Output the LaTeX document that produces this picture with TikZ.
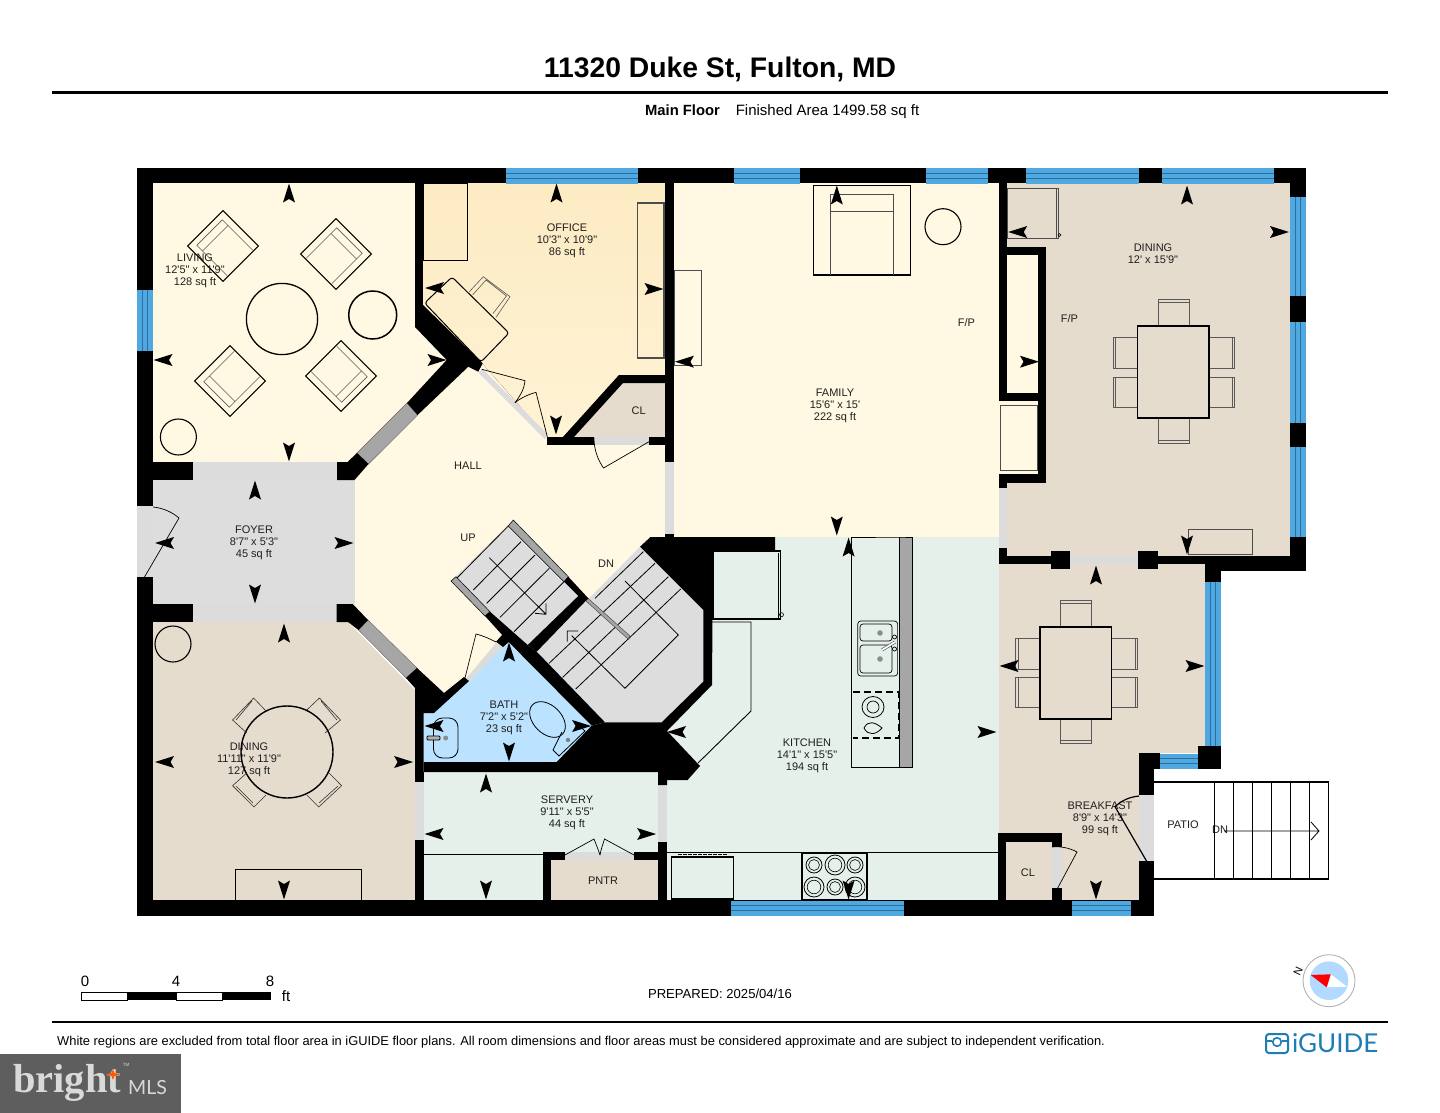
\documentclass[tikz,border=0pt]{standalone}
\usepackage{fontspec}
\newfontfamily\lsans{Liberation Sans}
\newfontfamily\lserif{Liberation Serif}
\newfontfamily\lato{Lato}
\definecolor{cream}{HTML}{FFF8E2}
\definecolor{officetop}{HTML}{FDEBC3}
\definecolor{officebot}{HTML}{FEF3D4}
\definecolor{beige}{HTML}{E6DCCE}
\definecolor{mint}{HTML}{E6F0EB}
\definecolor{foyergrey}{HTML}{DDDDDD}
\definecolor{doorgrey}{HTML}{DCDCDC}
\definecolor{bathblue}{HTML}{BBE2FF}
\definecolor{winblue}{HTML}{4FA8DF}
\definecolor{windark}{HTML}{2C6F9E}
\definecolor{bargrey}{HTML}{A6A6A6}
\definecolor{guide}{HTML}{1F7DB5}
\tikzset{
 lbl/.style={font=\lsans\fontsize{11}{12}\selectfont,align=center,inner sep=0pt,text=black!88},
 wall/.style={fill=black},
 opening/.style={fill=doorgrey},
 furn/.style={draw=black,line width=1pt},
 furnthin/.style={draw=black!65,line width=.6pt},
 swing/.style={draw=black,line width=.7pt},
 tread/.style={draw=black,line width=.8pt},
}
\newcommand\mk[3]{\fill[shift={(#1,#2)},rotate=#3] (9.5,0)--(-9.5,6)--(-6,0)--(-9.5,-6)--cycle;}
\newcommand\winh[3]{\fill[winblue] (#1,#3) rectangle (#2,#3+15.5);\draw[windark,line width=.6pt] (#1,#3+5.2)--(#2,#3+5.2) (#1,#3+10)--(#2,#3+10);}
\newcommand\winv[3]{\fill[winblue] (#1,#2) rectangle (#1+16,#3);\draw[windark,line width=.6pt] (#1+5.3,#2)--(#1+5.3,#3) (#1+10.6,#2)--(#1+10.6,#3);}
\newcommand\rchair[3]{\begin{scope}[shift={(#1,#2)},rotate=#3]
 \draw[furn] (-25,-25) rectangle (25,25);
 \draw[furnthin] (24,-18)--(-19,-18)--(-19,18)--(24,18) (-11,-18)--(-11,18);
 \end{scope}}
\newcommand\burner[3]{\draw[line width=.8pt] (#1,#2) circle (#3);\draw[line width=.6pt] (#1,#2) circle (#3*.68);}
\begin{document}
\begin{tikzpicture}[x=1pt,y=-1pt]
\useasboundingbox (0,0) rectangle (1440,1113);
\fill[white] (0,0) rectangle (1440,1113);
%---------- floors
\fill[cream] (153,183)--(999,183)--(1007,405)--(1007,537)--(650,537)--(641,545)--(537,652)--(509,642)--(467,677)--(444,693)--(352,604)--(153,604)--cycle;
\fill[foyergrey] (153,480) rectangle (355,604);
\fill[top color=officetop,bottom color=officebot] (423,183)--(665,183)--(665,375)--(619,375)--(563,437)--(547,437)--(482,363)--(423,307)--cycle;
\fill[beige] (574,437)--(623,383)--(665,383)--(665,437)--cycle;
\fill[beige] (153,622)--(348,622)--(415,690)--(415,900)--(153,900)--cycle;
\fill[bathblue] (423.5,713)--(434,713)--(508,642)--(593,725)--(556.7,762)--(423.5,762)--cycle;
\fill[mint] (667,537) rectangle (999,900);
\fill[mint] (423.5,772) rectangle (658,900);
\fill[beige] (551,860) rectangle (658,900);
\fill[beige] (999,183) rectangle (1290,556);
\fill[cream] (1007,255) rectangle (1037.5,393);
\fill[cream] (999,401) rectangle (1037.5,474);
\fill[beige] (999,564) rectangle (1205,753);
\fill[beige] (999,753) rectangle (1139,900);
\fill[beige] (1006,842) rectangle (1052,900);
%---------- stairs
\fill[foyergrey] (513.3,520)--(451,581)--(527.7,645)--(578.3,596)--(564,581.7)--cycle;
\fill[foyergrey] (640,546.7)--(536.7,651.7)--(605,722.3)--(661.7,722.3)--(703.3,681.7)--(703.3,610)--cycle;
\draw[tread] (456.7,578.3)--(508.3,526);
\draw[tread] (473.3,590)--(521,541.7) (486.7,603.3)--(535,555) (500,617.3)--(549.3,568.3) (514,631.7)--(564,581.7);
\draw[tread] (489.3,557.7)--(546,614.3) (535,613.3)--(546,614.3)--(546,603.3);
\draw[tread] (595,598.3)--(643.3,551.7) (549,663.3)--(655,563.3) (562.7,677.3)--(668.3,576.7) (575.7,689)--(680.7,589);
\draw[tread] (625,581)--(678.3,635)--(625,688.3)--(571.7,635.7) (567.3,641.7)--(567.3,631)--(578.3,631);
\fill[bargrey,draw=black,line width=.5pt] (513.3,520)--(568.3,576.7)--(564,581.7)--(508.3,526)--cycle;
\fill[bargrey,draw=black,line width=.5pt] (451,581)--(456,576.7)--(490,611.7)--(485,616)--cycle;
\fill[bargrey,draw=black!70,line width=.5pt] (588,598.3)--(630,636)--(628,639)--(586,601)--cycle;
%---------- labels
\node[lbl] (living) at (195,270.7) {LIVING\\12'5" x 11'9"\\128 sq ft};
\node[lbl] (office) at (567,240.7) {OFFICE\\10'3" x 10'9"\\86 sq ft};
\node[lbl] (hall) at (468,465.7) {HALL};
\node[lbl] (up) at (468,537.7) {UP};
\node[lbl] (dn) at (606,563.7) {DN};
\node[lbl] (foyer) at (254,543) {FOYER\\8'7" x 5'3"\\45 sq ft};
\node[lbl] (diningl) at (249,759.7) {DINING\\11'11" x 11'9"\\127 sq ft};
\node[lbl] (bath) at (504,718) {BATH\\7'2" x 5'2"\\23 sq ft};
\node[lbl] (servery) at (567,812.7) {SERVERY\\9'11" x 5'5"\\44 sq ft};
\node[lbl] (pntr) at (603,880.5) {PNTR};
\node[lbl] (kitchen) at (807,755.7) {KITCHEN\\14'1" x 15'5"\\194 sq ft};
\node[lbl] (breakfast) at (1100,819) {BREAKFAST\\8'9" x 14'3"\\99 sq ft};
\node[lbl] (clb) at (1028,872.5) {CL};
\node[lbl] (cla) at (638.6,410.5) {CL};
\node[lbl] (patio) at (1183,824.5) {PATIO};
\node[lbl] (dnp) at (1220,829.5) {DN};
\node[lbl] (family) at (835,405.7) {FAMILY\\15'6" x 15'\\222 sq ft};
\node[lbl] (diningr) at (1153,253.5) {DINING\\12' x 15'9"};
\node[lbl] (fpa) at (966.4,322.2) {F/P};
\node[lbl] (fpb) at (1069.5,318.2) {F/P};
%---------- openings
\fill[opening] (193,462) rectangle (337,480);
\fill[opening] (193,604) rectangle (337,622);
\fill[opening] (137,506) rectangle (153,577);
\fill[opening] (594,437) rectangle (649,445);
\fill[opening] (665,462) rectangle (673.6,534);
\fill[opening] (999,488) rectangle (1007,548);
\fill[opening] (1070,556) rectangle (1138,564);
\fill[opening] (415,782) rectangle (423.5,840);
\fill[opening] (658,785) rectangle (667,842);
\fill[opening] (565,852) rectangle (634,860);
\fill[opening] (1052,847) rectangle (1062,888);
\fill[opening] (1139,795) rectangle (1153.5,861);
\fill[opening] (482.7,369.3)--(548.3,435)--(545,439.3)--(478.3,372.3)--cycle;
\fill[opening] (465,680)--(496,643)--(503,646.7)--(469,682)--cycle;
%---------- interior dark glazing
\fill[bargrey,draw=black!60,line width=.4pt] (407,403)--(417.6,415)--(368.5,464)--(357,453)--cycle;
\fill[bargrey,draw=black!60,line width=.4pt] (368,620)--(358.5,630)--(406,678)--(417,668)--cycle;
%---------- walls
\fill[wall] (137,168) rectangle (1306,183);
\fill[wall] (137,168) rectangle (153,506);
\fill[wall] (137,577) rectangle (153,916);
\fill[wall] (137,900) rectangle (1153.5,916);
\fill[wall] (1290,168) rectangle (1306,571);
\fill[wall] (153,462) rectangle (193,480);
\fill[wall] (153,604) rectangle (193,622);
\fill[wall] (415,183) rectangle (423,327);
\fill[wall] (415,327)--(423,305)--(482.7,363.3)--(478.3,371.7)--(468.3,366.7)--(417.6,415)--(407,403)--(446.7,360)--cycle;
\fill[wall] (357,453)--(368.5,464)--(354.5,480)--(337,480)--(337,462)--(347.5,462)--cycle;
\fill[wall] (336.7,604)--(352.7,604)--(368,620)--(358.5,630)--(348,622)--(336.7,622)--cycle;
\fill[wall] (665,183) rectangle (673.6,462);
\fill[wall] (665,534) rectangle (673.6,545);
\fill[wall] (547,437) rectangle (594,445);
\fill[wall] (649,437) rectangle (665,445);
\fill[wall] (563,437)--(619,375)--(665,375)--(665,383)--(623,383)--(574,437)--cycle;
% bath / west core
\fill[wall] (415,688)--(406,678)--(417,668)--(444,693)--(464,677)--(469,681)--(434,713)--(423.5,713)--(423.5,772)--(415,772)--cycle;
\fill[wall] (415,772) rectangle (423.5,782);
\fill[wall] (415,840) rectangle (423.5,900);
\fill[wall] (485,616)--(490,611.7)--(527.7,645)--(536.7,651.7)--(605,722.3)--(591.7,725.7)--(508.3,641.7)--cycle;
\fill[wall] (496,641.7)--(503,634)--(510,641)--(503,647)--cycle;
\fill[wall] (568.3,576.7)--(588.3,598.3)--(536.7,651.7)--(527.7,645)--(578.3,596)--(564,581.7)--cycle;
% central mass
\fill[wall] (640,546.7)--(650.5,537)--(775,537)--(775,550)--(713,550)--(712,685)--(667,731)--(700,766)--(687.6,780)--(667,780)--(667,785)--(658,785)--(658,772)--(423.5,772)--(423.5,762)--(556.7,762)--(591.7,725.7)--(605,722.3)--(661.7,722.3)--(703.3,681.7)--(703.3,610)--cycle;
\fill[wall] (658,842) rectangle (667,900);
\fill[wall] (543,852) rectangle (551,900);
\fill[wall] (543,852) rectangle (565,860);
\fill[wall] (634,852) rectangle (658,860);
% fireplace and east walls
\fill[wall] (999,183) rectangle (1007,393);
\fill[wall] (999,247) rectangle (1046,255);
\fill[wall] (1037.5,247) rectangle (1046,483);
\fill[wall] (999,393) rectangle (1046,401);
\fill[wall] (999,474) rectangle (1046,483);
\fill[wall] (999,474) rectangle (1007,488);
\fill[wall] (999,548) rectangle (1007,564);
\fill[wall] (999,556) rectangle (1070,564);
\fill[wall] (1051,551) rectangle (1070,569);
\fill[wall] (1138,551) rectangle (1157.5,569);
\fill[wall] (1138,556) rectangle (1290,564);
\fill[wall] (1205,556) rectangle (1306,571);
\fill[wall] (1205,571) rectangle (1221,582);
\fill[wall] (1198,746) rectangle (1221,769);
\fill[wall] (1139,753) rectangle (1160,769);
\fill[wall] (1139,753) rectangle (1153.5,795);
\fill[wall] (1139,861) rectangle (1153.5,916);
\fill[wall] (997.5,833) rectangle (1062,842);
\fill[wall] (997.5,833) rectangle (1006,900);
\fill[wall] (1052,833) rectangle (1062,847);
\fill[wall] (1052,888) rectangle (1062,900);
%---------- windows
\winh{506}{638}{168}
\winh{734}{800}{168}
\winh{926}{988}{168}
\winh{1026}{1138.5}{168}
\winh{1162}{1274}{168}
\winh{731}{904}{900.5}
\winh{1072}{1130.5}{900.5}
\winh{1160}{1198}{753.5}
\winv{137}{290}{351}
\winv{1290}{197}{296}
\winv{1290}{322}{423}
\winv{1290}{447}{537}
\winv{1205}{582}{746}
%---------- door swings
\draw[swing] (153,507) .. controls (163,508) and (172,512) .. (179,518) -- (144.5,577);
\draw[swing] (481.7,369.3)--(525,380.7) .. controls (524,390) and (520,396) .. (515,402.7);
\draw[swing] (515,402.7) .. controls (522,397) and (530,394) .. (536,392.3)--(547.3,436.7);
\draw[swing] (594,438) .. controls (594,450) and (598,460) .. (603.5,468)--(649,441.7);
\draw[swing] (465,678)--(476,634) .. controls (484,636) and (490,639) .. (496,642);
\draw[swing] (565,855)--(594,839) .. controls (596,844) and (598,849) .. (600,855);
\draw[swing] (634,855)--(604.5,839) .. controls (603,844) and (601,849) .. (600,855);
\draw[swing] (1057.7,888)--(1077,852) .. controls (1070,848) and (1060,846) .. (1052,847);
\draw[line width=1.2pt] (1146.5,861)--(1115,806.7) .. controls (1122,800) and (1130,797) .. (1139,796);
%---------- patio stairs
\draw[line width=1.1pt] (1153.5,782)--(1328.7,782)--(1328.7,879)--(1153.5,879);
\foreach \sx in {1214,1233,1252,1271,1290.5,1309.6} \draw[line width=1pt] (\sx,782)--(\sx,879);
\draw[line width=.8pt] (1224,831)--(1319,831) (1311,822)--(1319,831)--(1311,840);
%---------- living furniture
\rchair{223}{246}{-45}
\rchair{336}{254}{-135}
\rchair{230}{381}{45}
\rchair{341}{376}{135}
\draw[line width=1.3pt] (282,319) circle (35.6);
\draw[line width=1.5pt] (372.7,315) circle (24);
\draw[line width=1.1pt] (178.4,437) circle (18);
%---------- office furniture
\draw[furn] (423,183) rectangle (467.4,260);
\draw[furn,draw=black!70,line width=1.2pt] (637.6,203) rectangle (664,358);
\draw[furnthin] (469.3,291.7)--(483.3,276.7)--(510,296.7)--(496,317.3) (472.5,295)--(486,280)--(506.5,296)--(493,313.5);
\draw[furn,rounded corners=3pt] (452,277)--(509,333)--(481,362)--(424.6,303)--cycle;
%---------- dining left furniture
\draw[line width=1.4pt] (287,752) circle (46);
\draw[furnthin,draw=black!80] (253.6,698)--(232.6,720)--(246.7,733) (253.6,698)--(267,712) (252,701)--(236,720);
\draw[furnthin,draw=black!80] (319.4,698)--(340.5,720)--(325,733) (319.4,698)--(306.8,710) (321,701)--(337,720);
\draw[furnthin,draw=black!80] (232.6,785.7)--(254,807)--(266,795) (232.6,785.7)--(246.7,773) (236,786)--(253,803);
\draw[furnthin,draw=black!80] (329,773)--(341.6,785.7)--(318.7,807)--(306.8,795) (338,786)--(319,803);
\draw[line width=1.1pt] (173,644) circle (18);
\draw[line width=1pt] (235,900)--(235,869)--(361,869)--(361,900);
%---------- servery counter
\draw[line width=.9pt] (423.5,854)--(543,854);
%---------- bath fixtures
\draw[line width=.8pt,rounded corners=9pt] (433.5,718) rectangle (458,758);
\fill[black!45] (445.7,738) circle (2.5);
\draw[line width=.8pt,fill=black!30,rounded corners=1pt] (427,736) rectangle (440,740);
\draw[line width=.8pt] (547.5,719.5) ellipse [x radius=21,y radius=14,rotate=-45];
\draw[line width=.8pt] (562,732)--(553,750)--(559,756)--(585,731)--(577,724);
\fill[black!50] (568,740) circle (2.2);
%---------- kitchen furniture
\draw[line width=1.4pt] (713,551) rectangle (780.5,619);
\draw[line width=.6pt] (778,553)--(778,619);
\draw[line width=.6pt] (781.5,614.7) circle (2);
\draw[line width=.9pt] (712,622)--(751,622)--(751,711)--(698,763);
\fill[bargrey] (899.4,537) rectangle (912,767);
\draw[line width=.9pt] (899.4,537)--(912,537)--(912,767)--(851.7,767)--(851.7,537)--cycle (899.4,537)--(899.4,767);
\draw[line width=.7pt,rounded corners=3pt] (857.7,621) rectangle (897.6,676);
\draw[line width=.7pt,rounded corners=3pt] (860,624) rectangle (892,641);
\draw[line width=.7pt,rounded corners=3pt] (860,645) rectangle (892,673);
\fill[black!45] (880,633) circle (2.8);
\fill[black!45] (880,659) circle (2.8);
\draw[line width=3pt,black!70] (882,650)--(895,642);
\draw[line width=1.8pt,white] (882,650)--(895,642);
\draw[line width=.7pt] (894.5,637) circle (2) (894.5,649) circle (2);
\draw[line width=1.2pt,dashed,dash pattern=on 7pt off 4pt] (853,692)--(898.5,692)--(898.5,738)--(853,738);
\draw[line width=1.2pt] (851.7,692)--(851.7,738);
\draw[line width=.8pt] (873,707) ellipse [x radius=11,y radius=10.5];
\draw[line width=.7pt] (873,707) circle (6);
\draw[line width=.8pt] (864,728) .. controls (868,720) and (875,722) .. (882,728) .. controls (876,735) and (868,736) .. (864,728) -- cycle;
\draw[line width=.9pt] (667,852)--(997.5,852);
\draw[line width=1.4pt] (671.7,857) rectangle (733.7,899);
\draw[line width=.8pt,dash pattern=on 4pt off 1pt] (678,854)--(728,854);
\draw[line width=1.2pt,fill=mint] (802,853) rectangle (867,900);
\burner{814}{865}{8}
\burner{835}{865}{10}
\burner{855}{865}{8}
\burner{814}{887}{10}
\burner{835}{887}{8}
\burner{855}{887}{10}
%---------- breakfast table
\draw[black!65,line width=.9pt] (1060.7,600) rectangle (1091.5,627) (1060.7,603)--(1091.5,603);
\draw[black!65,line width=.9pt] (1060.7,719) rectangle (1091.5,743) (1060.7,740)--(1091.5,740);
\draw[black!65,line width=.9pt] (1015.6,638) rectangle (1040,669) (1015.6,677) rectangle (1040,707) (1018,638)--(1018,669) (1018,677)--(1018,707);
\draw[black!65,line width=.9pt] (1111.4,638) rectangle (1137,669) (1111.4,677) rectangle (1137,707) (1135,638)--(1135,669) (1135,677)--(1135,707);
\draw[line width=1.4pt] (1040,627) rectangle (1111.4,719);
%---------- family
\draw[line width=1.5pt] (813.6,185.7) rectangle (910.4,275);
\draw[black!70,line width=.9pt] (830.5,275)--(830.5,194)--(893.6,194)--(893.6,275) (830.5,211)--(893.6,211);
\draw[line width=1.1pt] (943,226.7) circle (18);
\draw[black!70,line width=.9pt] (674.7,270) rectangle (701.7,365.7);
\draw[black!70,line width=.9pt] (1000,405) rectangle (1037.5,470);
%---------- dining right
\draw[black!70,line width=.9pt] (1007,188) rectangle (1058.6,238) (1056,188)--(1056,238);
\draw[line width=.6pt] (1059.5,235) circle (1.5);
\draw[black!65,line width=.9pt] (1158,299) rectangle (1189,326) (1158,302.5)--(1189,302.5);
\draw[black!65,line width=.9pt] (1158,418) rectangle (1189,443) (1158,440)--(1189,440);
\draw[black!65,line width=.9pt] (1113,337) rectangle (1137.7,368) (1113,377) rectangle (1137.7,407) (1115.5,337)--(1115.5,368) (1115.5,377)--(1115.5,407);
\draw[black!65,line width=.9pt] (1209,337) rectangle (1234.5,368) (1209,377) rectangle (1234.5,407) (1232,337)--(1232,368) (1232,377)--(1232,407);
\draw[line width=1.4pt] (1137.7,326) rectangle (1209,418);
\draw[black!70,line width=.9pt] (1188.6,529) rectangle (1252.6,554);
%---------- view markers
\mk{289}{193}{90}\mk{163}{360}{180}\mk{437}{360}{0}\mk{289}{452}{-90}
\mk{556.5}{193}{90}\mk{434.5}{288}{180}\mk{654}{289}{0}\mk{556}{425}{-90}
\mk{255}{490}{90}\mk{164.5}{543}{180}\mk{344}{543}{0}\mk{255}{594}{-90}
\mk{284}{633}{90}\mk{164.5}{762}{180}\mk{403.6}{762}{0}\mk{284}{890}{-90}
\mk{509}{652}{90}\mk{434}{726}{180}\mk{581.6}{726}{0}\mk{509}{752}{-90}
\mk{486}{783}{90}\mk{434}{834}{180}\mk{646.6}{834}{0}\mk{486}{890}{-90}
\mk{848.6}{547}{90}\mk{676.5}{732}{180}\mk{987}{732}{0}\mk{848.6}{890}{-90}
\mk{1096}{575}{90}\mk{1009}{666}{180}\mk{1195}{666}{0}\mk{1096}{890}{-90}
\mk{836.8}{195}{90}\mk{684.4}{361.7}{180}\mk{1029.5}{361.7}{0}\mk{836.8}{526}{-90}
\mk{1187}{195}{90}\mk{1017.7}{232}{180}\mk{1279.5}{232}{0}\mk{1187}{545}{-90}
%---------- header
\node[font=\lsans\bfseries\fontsize{28.3}{30}\selectfont,inner sep=0pt,anchor=base] (title) at (720,78) {11320 Duke St, Fulton, MD};
\draw[line width=2.5pt] (52,92.5)--(1388,92.5);
\node[font=\lsans\bfseries\fontsize{14.8}{16}\selectfont,inner sep=0pt,anchor=base] (floorname) at (682.5,116) {Main Floor};
\node[font=\lsans\fontsize{15}{16}\selectfont,inner sep=0pt,anchor=base] (area) at (827.5,116) {Finished Area 1499.58 sq ft};
%---------- footer
\draw[line width=.6pt,fill=white] (81,992.3) rectangle (127.7,1000);
\fill (127.7,992.3) rectangle (176,1000);
\draw[line width=.6pt,fill=white] (176,992.3) rectangle (222,1000);
\fill (222,992.3) rectangle (270.7,1000);
\node[font=\lsans\fontsize{15}{16}\selectfont,inner sep=0pt] (sc0) at (85,981) {0};
\node[font=\lsans\fontsize{15}{16}\selectfont,inner sep=0pt] (sc4) at (176,981) {4};
\node[font=\lsans\fontsize{15}{16}\selectfont,inner sep=0pt] (sc8) at (270,981) {8};
\node[font=\lsans\fontsize{15}{16}\selectfont,inner sep=0pt] (scft) at (286,996) {ft};
\node[font=\lsans\fontsize{13.1}{15}\selectfont,inner sep=0pt,anchor=base] (prepared) at (720,998) {PREPARED: 2025/04/16};
\draw[line width=2.2pt] (52,1022)--(1388,1022);
\node[font=\lsans\fontsize{12.87}{14}\selectfont,inner sep=0pt,anchor=base west] (disclaimer) at (57,1045) {White regions are excluded from total floor area in iGUIDE floor plans. All room dimensions and floor areas must be considered approximate and are subject to independent verification.};
%---------- compass
\draw[black!30,line width=.9pt,fill=white] (1329,980.7) circle (26);
\fill[blue!50!cyan!30!white] (1329,980.7) circle (19.3);
\fill[white] (1330.7,974.3)--(1347,986.7)--(1326.7,987.3)--cycle;
\fill[red] (1310.7,975)--(1330.7,974.3)--(1326.7,987.3)--cycle;
\node[font=\lsans\fontsize{11}{12}\selectfont,inner sep=0pt,rotate=65] (north) at (1298,971) {N};
%---------- iGUIDE logo
\draw[guide,line width=2pt,rounded corners=3pt] (1266,1034) rectangle (1288,1053);
\draw[guide,line width=1.6pt] (1266,1041)--(1272,1041) (1282,1041)--(1288,1041);
\draw[guide,line width=1.6pt] (1277,1042) circle (4.3);
\node[font=\lato\fontsize{26}{28}\selectfont,text=guide,inner sep=0pt,anchor=west] (iguide) at (1292,1043.5) {iGUIDE};
%---------- bright logo
\fill[black!63] (0,1054) rectangle (181,1113);
\node[font=\lserif\bfseries\fontsize{40.5}{41}\selectfont,text=black!15,inner sep=0pt,anchor=base west] (bright) at (13,1092) {bright};
\node[font=\lato\fontsize{19.5}{20}\selectfont,text=black!15,inner sep=0pt,anchor=base west] (mls) at (128,1094) {MLS};
\node[font=\lsans\fontsize{4.5}{5}\selectfont,text=black!15,inner sep=0pt] (tm) at (126,1065) {TM};
\fill[orange!70!red] (113,1069)--(114.5,1073)--(120,1074.5)--(114.5,1076)--(113,1080)--(111.5,1076)--(106,1074.5)--(111.5,1073)--cycle;
\end{tikzpicture}
\end{document}
